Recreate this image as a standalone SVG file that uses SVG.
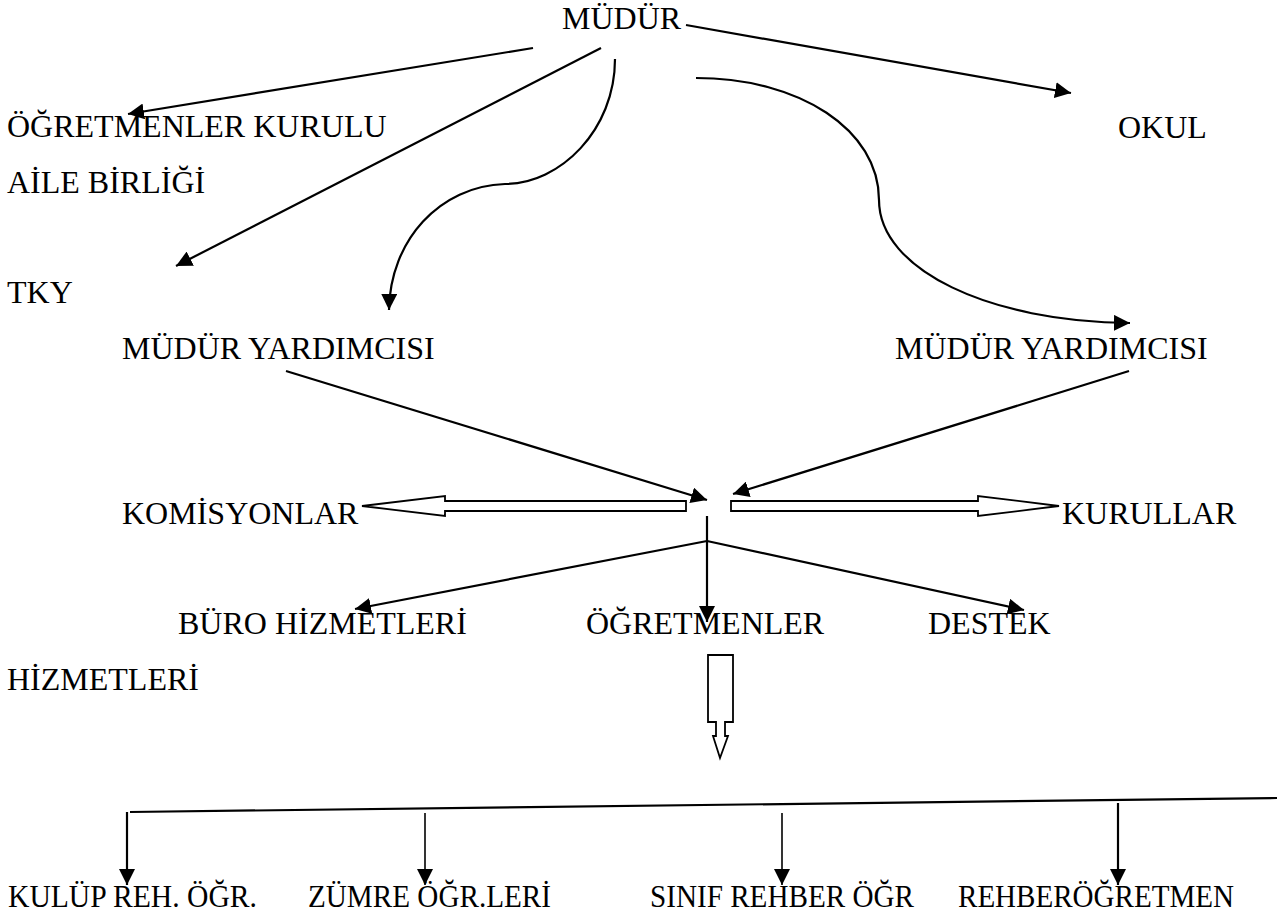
<svg xmlns="http://www.w3.org/2000/svg" width="1283" height="919" viewBox="0 0 1283 919">
<defs>
<style>
text{font-family:"Liberation Serif","Times New Roman",serif;font-size:32px;fill:#000}
.ln{stroke:#000;stroke-width:2.2;fill:none}
.thin{stroke:#000;stroke-width:1.6;fill:none}
.hl{stroke:#000;stroke-width:1.8;fill:#fff}
</style>
<marker id="ah" markerUnits="userSpaceOnUse" markerWidth="17" markerHeight="16" refX="16" refY="8" orient="auto">
<path d="M0,0 L16,8 L0,16 z" fill="#000"/>
</marker>
</defs>
<rect width="1283" height="919" fill="#fff"/>
<g id="connectors">
<line class="ln" x1="686" y1="25" x2="1071" y2="93" marker-end="url(#ah)"/>
<line class="ln" x1="533" y1="48" x2="128" y2="114" marker-end="url(#ah)"/>
<line class="ln" x1="601" y1="48" x2="176" y2="266" marker-end="url(#ah)"/>
<path class="ln" d="M615,59 C615,130 560,184 505,184 C440,186 390,240 389,310" marker-end="url(#ah)"/>
<path class="ln" d="M696,78 C800,78 879,130 879,200 C879,270 990,322 1130,323" marker-end="url(#ah)"/>
<line class="ln" x1="286" y1="371" x2="707" y2="500" marker-end="url(#ah)"/>
<line class="ln" x1="1129" y1="371" x2="733" y2="494" marker-end="url(#ah)"/>
<polygon class="hl" points="686,501 686,511 445,511 445,516 362,506 445,496 445,501"/>
<polygon class="hl" points="731,501 731,511 978,511 978,516 1059,506 978,496 978,501"/>
<line class="ln" x1="707" y1="516" x2="707" y2="622" marker-end="url(#ah)"/>
<line class="ln" x1="707" y1="541" x2="355" y2="609" marker-end="url(#ah)"/>
<line class="ln" x1="707" y1="541" x2="1024" y2="610" marker-end="url(#ah)"/>
<polygon class="hl" points="708,655 733,655 733,722 725,722 725,736 728,736 720,758 713,736 716,736 716,722 708,722"/>
<line class="ln" x1="130" y1="812" x2="1277" y2="798"/>
<line class="ln" x1="127" y1="812" x2="127" y2="885" marker-end="url(#ah)"/>
<line class="thin" x1="425" y1="813" x2="425" y2="885" marker-end="url(#ah)"/>
<line class="thin" x1="782" y1="813" x2="782" y2="885" marker-end="url(#ah)"/>
<line class="ln" x1="1118" y1="803" x2="1118" y2="885" marker-end="url(#ah)"/>
</g>
<g id="mudur"><text x="562" y="29">MÜDÜR</text></g>
<g id="ogretmenler-kurulu"><text x="7" y="137">ÖĞRETMENLER KURULU</text></g>
<g id="okul"><text x="1118" y="138">OKUL</text></g>
<g id="aile-birligi"><text x="7" y="193">AİLE BİRLİĞİ</text></g>
<g id="tky"><text x="7" y="303">TKY</text></g>
<g id="mudur-yard-1"><text x="122" y="359">MÜDÜR YARDIMCISI</text></g>
<g id="mudur-yard-2"><text x="895" y="359">MÜDÜR YARDIMCISI</text></g>
<g id="komisyonlar"><text x="122" y="524">KOMİSYONLAR</text></g>
<g id="kurullar"><text x="1062" y="524">KURULLAR</text></g>
<g id="buro"><text x="178" y="634">BÜRO HİZMETLERİ</text></g>
<g id="ogretmenler"><text x="586" y="634">ÖĞRETMENLER</text></g>
<g id="destek"><text x="928" y="634">DESTEK</text></g>
<g id="hizmetleri"><text x="7" y="690">HİZMETLERİ</text></g>
<g id="kulup"><text x="8" y="907" textLength="249" lengthAdjust="spacingAndGlyphs">KULÜP REH. ÖĞR.</text></g>
<g id="zumre"><text x="308" y="907" textLength="243" lengthAdjust="spacingAndGlyphs">ZÜMRE ÖĞR.LERİ</text></g>
<g id="sinif"><text x="650" y="907" textLength="264" lengthAdjust="spacingAndGlyphs">SINIF REHBER ÖĞR</text></g>
<g id="rehber"><text x="958" y="907" textLength="276" lengthAdjust="spacingAndGlyphs">REHBERÖĞRETMEN</text></g>
</svg>
